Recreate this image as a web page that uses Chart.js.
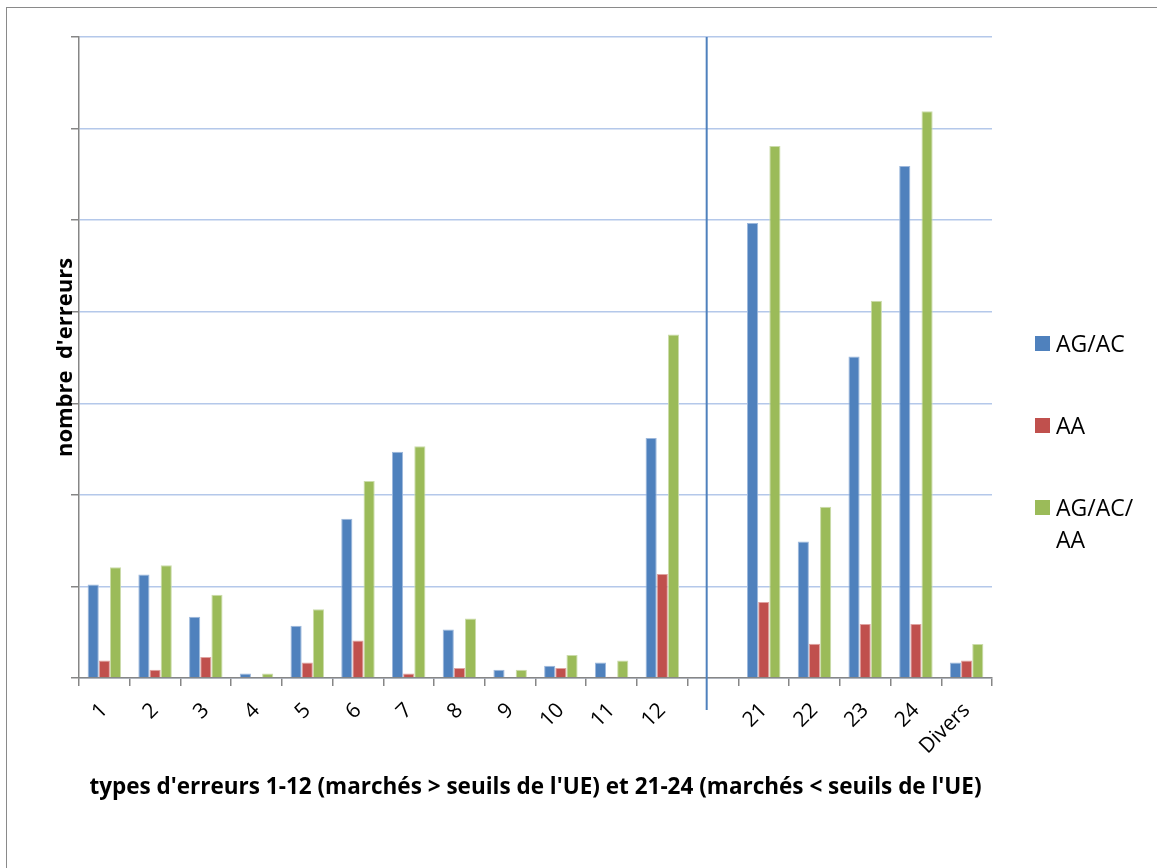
<!DOCTYPE html>
<html lang="fr">
<head>
<meta charset="UTF-8">
<title>nombre d'erreurs</title>
<script src="https://cdn.jsdelivr.net/npm/chart.js"></script>
<style>
    body { margin: 0; background: #fff; }
    .wrap { position: relative; width: 1157px; height: 868px; overflow: hidden; }
    /* cadre gris, coupé à droite et en bas comme dans l'original */
    .frame {
        position: absolute; left: 6px; top: 7px; width: 1200px; height: 900px;
        border: 1.5px solid #8a8a8a;
    }
    canvas { position: absolute; left: 0; top: 0; }
    #legend {
        position: absolute; left: 1035px; top: 327px;
        font-family: "Open Sans", "Noto Sans", sans-serif; font-size: 23px; color: #000;
    }
    .item { display: flex; align-items: flex-start; margin-bottom: 50px; }
    .box { width: 15px; height: 15px; margin: 9px 6px 0 0; flex: none; }
    .txt { width: 92px; line-height: 32px; }
</style>
</head>
<body>
<div class="wrap">
    <div class="frame"></div>
    <canvas id="c" width="1157" height="868"></canvas>
    <div id="legend"></div>
</div>
<script>
    // catégories : types 1-12, un vide, puis 21-24 et Divers
    const categories = ['1', '2', '3', '4', '5', '6', '7', '8', '9', '10', '11', '12', '', '21', '22', '23', '24', 'Divers'];
    const agac = [10.2, 11.3, 6.7, 0.5, 5.7, 17.4, 24.7, 5.3, 0.9, 1.35, 1.7, 26.2, null, 49.7, 14.9, 35.1, 55.9, 1.7];
    const aa = [1.9, 0.9, 2.3, null, 1.7, 4.1, 0.5, 1.1, null, 1.1, 0.15, 11.35, null, 8.3, 3.75, 5.9, 5.9, 1.9];
    const agacaa = [12.1, 12.3, 9.1, 0.5, 7.5, 21.5, 25.3, 6.5, 0.9, 2.5, 1.9, 37.5, null, 58.1, 18.7, 41.2, 61.9, 3.7];
    const seriesNames = ['AG/AC', 'AA', 'AG/AC/ AA'];
    const colors = ['#4F81BD', '#C0504D', '#9BBB59'];
    const edges = ['#9db8dc', '#e0a3a1', '#cbdcaa'];

    const font = '"Open Sans", "Noto Sans", sans-serif';

    // trait vertical entre 12 et 21
    const separator = {
        id: 'separator',
        afterDatasetsDraw(chart) {
            const x = chart.scales.x;
            const w = x.getPixelForValue(1) - x.getPixelForValue(0);
            const px = x.getPixelForValue(12) - 0.125 * w;
            const ctx = chart.ctx;
            ctx.save();
            ctx.strokeStyle = '#4F81BD';
            ctx.lineWidth = 2;
            ctx.beginPath();
            ctx.moveTo(px, chart.chartArea.top);
            ctx.lineTo(px, chart.chartArea.bottom + 32);
            ctx.stroke();
            ctx.restore();
        }
    };

    const datasets = [agac, aa, agacaa].map((d, i) => ({
        label: seriesNames[i],
        data: d,
        backgroundColor: colors[i],
        borderColor: edges[i],
        borderWidth: 1,
        categoryPercentage: 0.66,
        barPercentage: 1
    }));

    new Chart(document.getElementById('c'), {
        type: 'bar',
        data: { labels: categories, datasets: datasets },
        options: {
            responsive: false,
            animation: false,
            layout: { padding: { left: 49, right: 165, top: 37, bottom: 63 } },
            plugins: { legend: { display: false }, tooltip: { enabled: false } },
            scales: {
                x: {
                    grid: { offset: true, drawOnChartArea: false, tickColor: '#868686', tickLength: 8, lineWidth: 1.5 },
                    border: { color: '#868686', width: 1.5 },
                    ticks: { color: '#000', font: { family: font, size: 21 }, minRotation: 45, maxRotation: 45, padding: 12 },
                    title: {
                        display: true,
                        text: "types d'erreurs 1-12 (marchés > seuils de l'UE) et 21-24 (marchés < seuils de l'UE)",
                        color: '#000',
                        font: { family: font, size: 22.5, weight: 'bold' }
                    },
                    afterFit(s) { s.height = 127; }
                },
                y: {
                    min: 0, max: 70,
                    ticks: { stepSize: 10, display: false },
                    grid: { color: '#b4c8ea', lineWidth: 1.5, tickColor: '#868686', tickLength: 8 },
                    border: { color: '#868686', width: 1.5 },
                    title: {
                        display: true,
                        text: "nombre  d'erreurs",
                        color: '#000',
                        font: { family: font, size: 22, weight: 'bold' }
                    },
                    afterFit(s) { s.width = 30; }
                }
            }
        },
        plugins: [separator]
    });

    // légende à droite (le dernier libellé passe sur deux lignes)
    const legend = document.getElementById('legend');
    seriesNames.forEach((name, i) => {
        const it = document.createElement('div');
        it.className = 'item';
        it.innerHTML = '<div class="box" style="background:' + colors[i] + '"></div><div class="txt">' + name + '</div>';
        legend.appendChild(it);
    });
</script>
</body>
</html>
